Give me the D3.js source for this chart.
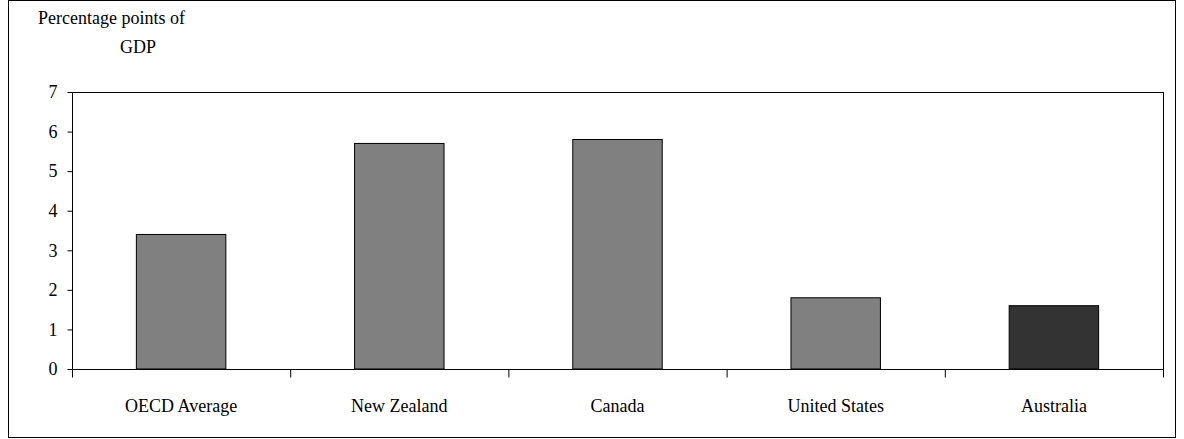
<!DOCTYPE html>
<html><head><meta charset="utf-8">
<script src="https://cdn.jsdelivr.net/npm/d3@7"></script>
<style>body{margin:0;background:#fff}</style>
</head><body>
<svg id="chart" width="1184" height="439"></svg>
<script>
const countries = ['OECD Average', 'New Zealand', 'Canada', 'United States', 'Australia']
const values = [3.4, 5.7, 5.8, 1.8, 1.6]
const barColors = ['#808080', '#808080', '#808080', '#808080', '#333333']
const yTicks = [0, 1, 2, 3, 4, 5, 6, 7]
const serif = 'Liberation Serif, Tinos, Times New Roman, DejaVu Serif'

const svg = d3.select('#chart').attr('font-family', serif)
svg.append('rect').attr('x', 8.5).attr('y', 0.5).attr('width', 1167).attr('height', 437)
  .attr('fill', 'none').attr('stroke', '#000')

const pLeft = 72, pRight = 1163, pTop = 92, pBottom = 369
const x = d3.scaleBand().domain(countries).range([pLeft, pRight]).paddingInner(0).paddingOuter(0)
const y = d3.scaleLinear().domain([0, 7]).range([pBottom, pTop])

svg.append('rect').attr('x', pLeft + 0.5).attr('y', pTop + 0.5).attr('width', pRight - pLeft).attr('height', pBottom - pTop)
  .attr('fill', 'none').attr('stroke', '#000')

const bw = x.bandwidth() * 0.41
svg.selectAll('.bar').data(values).enter().append('rect')
  .attr('x', (d, i) => x(countries[i]) + (x.bandwidth() - bw) / 2)
  .attr('y', d => y(d)).attr('width', bw).attr('height', d => pBottom - y(d))
  .attr('fill', (d, i) => barColors[i]).attr('stroke', '#000').attr('stroke-width', 1)

const yAxis = svg.append('g').attr('transform', `translate(${pLeft + 0.5},0)`)
  .call(d3.axisLeft(y).tickValues(yTicks).tickFormat(d3.format('d')).tickSize(5).tickSizeOuter(0).tickPadding(10))
yAxis.attr('font-family', serif).attr('font-size', 18)
yAxis.select('.domain').remove()

const xAxis = svg.append('g').attr('transform', `translate(0,${pBottom + 0.5})`)
xAxis.append('line').attr('x1', pLeft).attr('x2', pRight).attr('stroke', '#000')
xAxis.selectAll('.tk').data(countries.concat(['end'])).enter().append('line')
  .attr('x1', (d, i) => pLeft + i * x.bandwidth() + 0.5).attr('x2', (d, i) => pLeft + i * x.bandwidth() + 0.5)
  .attr('y1', 0).attr('y2', 8).attr('stroke', '#000')
xAxis.selectAll('.lb').data(countries).enter().append('text')
  .attr('x', d => x(d) + x.bandwidth() / 2).attr('y', 42).attr('text-anchor', 'middle')
  .attr('font-size', 18).text(d => d)

svg.append('text').attr('x', 38).attr('y', 24).attr('font-size', 18).text('Percentage points of')
svg.append('text').attr('x', 138).attr('y', 53).attr('font-size', 18).attr('text-anchor', 'middle').text('GDP')
</script>
</body></html>
